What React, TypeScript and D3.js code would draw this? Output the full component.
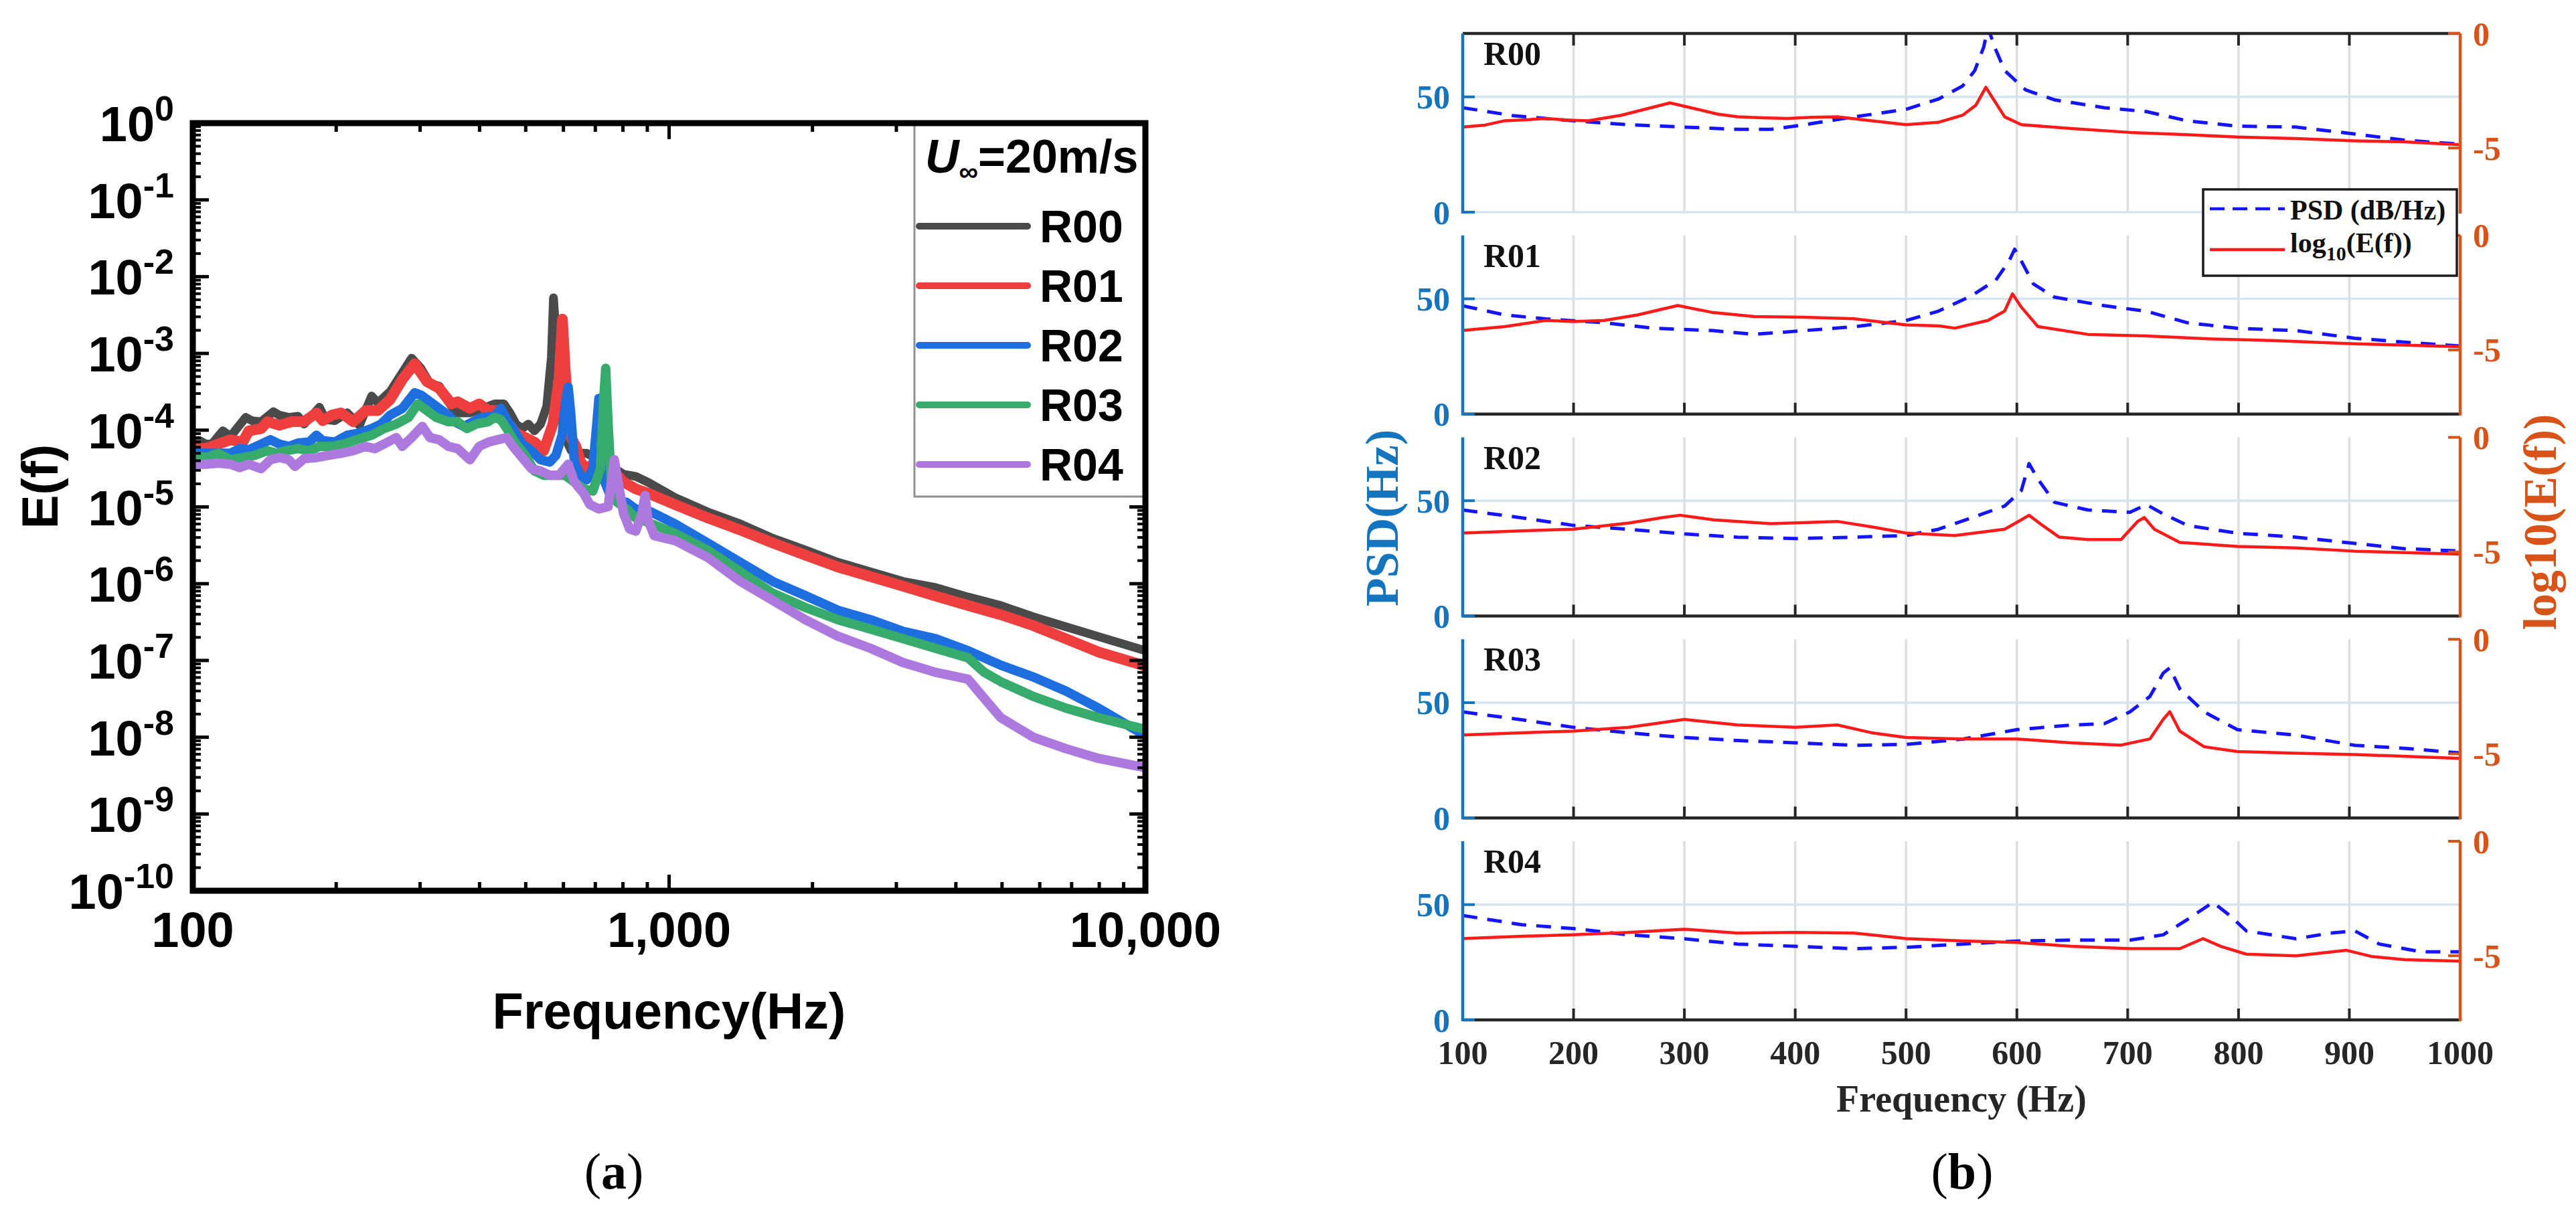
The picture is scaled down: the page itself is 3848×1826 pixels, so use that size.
import React from "react";
import * as d3 from "d3";

type Pt = [number, number];

// ── Panel (a): E(f) spectra, [frequency Hz, E] ─────────────────────────────
const SERIES_A = ["R00", "R01", "R02", "R03", "R04"];
const COLORS_A = ["#4a4a4a", "#ef3e3e", "#1d6fe0", "#36ab6b", "#ae79de"];
const WIDTHS_A = [13, 16, 14, 14, 14];

const r00: Pt[] = [
  [100, 7.3e-5], [103.4, 7.3e-5], [106.5, 6.6e-5], [109.7, 6.6e-5], [115.6, 9.8e-5], [120, 8.3e-5],
  [129.2, 1.47e-4], [133.1, 1.33e-4], [139.2, 1.29e-4], [147.6, 1.74e-4], [151.9, 1.57e-4], [159.1, 1.47e-4],
  [166.3, 1.52e-4], [171.3, 1.2e-4], [184.5, 1.99e-4], [190, 1.37e-4], [198.7, 1.33e-4], [210.9, 1.68e-4],
  [223.8, 1.16e-4], [237.4, 2.78e-4], [244.6, 2.27e-4], [259.6, 3.18e-4], [275.4, 5.61e-4], [288, 8.68e-4],
  [301.1, 6.42e-4], [314.8, 4.01e-4], [329.1, 3.75e-4], [339, 2.69e-4], [349.3, 2.05e-4], [359.8, 1.68e-4],
  [381.8, 1.68e-4], [405.3, 1.92e-4], [430.3, 2.2e-4], [449.7, 2.2e-4], [463.2, 1.68e-4], [477, 1.2e-4],
  [491.6, 1.05e-4], [506.3, 1.2e-4], [521.5, 9.8e-5], [537.3, 1.2e-4], [553.5, 2.05e-4], [566, 9.0e-4],
  [571.8, 5.3e-3], [578.7, 1.75e-3], [587.2, 2.35e-4], [604.9, 8.0e-5], [623.2, 5.4e-5], [651.6, 5.0e-5],
  [671.3, 5.0e-5], [712.3, 4.1e-5], [755.8, 3.4e-5], [802.1, 2.66e-5], [851.1, 2.5e-5], [903, 2.1e-5],
  [1030, 1.32e-5], [1205, 8.6e-6], [1411, 6.0e-6], [1651, 3.9e-6], [1932, 2.75e-6], [2262, 1.9e-6],
  [2647, 1.43e-6], [3098, 1.07e-6], [3626, 8.9e-7], [4244, 6.7e-7], [4967, 5.2e-7], [5814, 3.7e-7],
  [6804, 2.75e-7], [7963, 2.05e-7], [10000, 1.34e-7],
];
const r01: Pt[] = [
  [100, 5.95e-5], [106.5, 5.75e-5], [113.1, 6.6e-5], [120, 7.5e-5], [127.3, 7.0e-5], [131.1, 9.8e-5],
  [139.2, 1.05e-4], [143.4, 1.29e-4], [151.9, 1.16e-4], [161.4, 1.29e-4], [171.3, 1.29e-4], [181.8, 1.68e-4],
  [187.3, 1.33e-4], [195.7, 1.57e-4], [204.7, 1.68e-4], [217.3, 1.29e-4], [230.6, 1.8e-4], [244.6, 1.8e-4],
  [259.6, 2.51e-4], [275.4, 4.59e-4], [292.3, 7.34e-4], [301.1, 5.61e-4], [310.2, 4.29e-4], [329.1, 3.51e-4],
  [349.3, 2.2e-4], [359.8, 2.35e-4], [381.8, 1.92e-4], [399.4, 2.2e-4], [417.4, 1.8e-4], [436.4, 1.8e-4],
  [456.3, 1.29e-4], [477, 9.2e-5], [499, 8.0e-5], [521.5, 7.0e-5], [545.4, 5.4e-5], [570.2, 1.2e-4],
  [587.2, 4.59e-4], [597, 2.8e-3], [604.9, 6.4e-4], [618.6, 8.6e-5], [637.4, 6.15e-5], [651.6, 3.85e-5],
  [671.3, 3.15e-5], [691.6, 3.6e-5], [712.3, 4.4e-5], [733.8, 4.12e-5], [755.8, 3.15e-5], [802.1, 2.11e-5],
  [851.1, 1.72e-5], [903, 1.51e-5], [1030, 1.07e-5], [1205, 7.2e-6], [1411, 5.0e-6], [1651, 3.4e-6],
  [1932, 2.36e-6], [2262, 1.65e-6], [2647, 1.24e-6], [3098, 9.3e-7], [3626, 6.9e-7], [4244, 5.2e-7],
  [4967, 3.95e-7], [5814, 2.85e-7], [6804, 1.92e-7], [7963, 1.29e-7], [10000, 8.5e-8],
];
const r02: Pt[] = [
  [100, 5.2e-5], [106.5, 5.0e-5], [113.1, 5.0e-5], [120, 5.0e-5], [125.4, 5.75e-5], [131.1, 5.56e-5],
  [139.2, 6.6e-5], [145.5, 7.5e-5], [151.9, 6.6e-5], [159.1, 6.15e-5], [166.3, 6.8e-5], [175.5, 7.0e-5],
  [181.8, 8.6e-5], [187.3, 7.3e-5], [198.7, 7.0e-5], [210.9, 8.6e-5], [223.8, 9.2e-5], [237.4, 1.05e-4],
  [248.3, 1.2e-4], [259.6, 1.57e-4], [275.4, 1.92e-4], [292.3, 3.07e-4], [301.1, 2.87e-4], [314.8, 2.35e-4],
  [329.1, 1.92e-4], [344.1, 1.57e-4], [354.6, 1.29e-4], [370.7, 1.12e-4], [387.6, 1.29e-4], [405.3, 1.47e-4],
  [430.3, 1.52e-4], [443.2, 1.92e-4], [456.3, 1.37e-4], [470, 1.05e-4], [491.6, 6.6e-5], [514, 5.4e-5],
  [537.3, 4.12e-5], [561.8, 3.85e-5], [578.7, 4.71e-5], [596, 8.6e-5], [606.7, 2.35e-4], [614, 3.63e-4],
  [621.4, 1.68e-4], [632.5, 3.85e-5], [651.6, 2.58e-5], [671.3, 2.25e-5], [691.6, 3.15e-5], [705, 1.2e-4],
  [712.3, 2.6e-4], [720.8, 8.6e-5], [729.5, 2.25e-5], [755.8, 1.32e-5], [778.6, 1.23e-5], [814.2, 1.15e-5],
  [851.1, 9.4e-6], [903, 9.0e-6], [1030, 6.0e-6], [1205, 3.4e-6], [1411, 1.9e-6], [1651, 1.07e-6],
  [1932, 7.0e-7], [2262, 4.5e-7], [2647, 3.4e-7], [3098, 2.4e-7], [3626, 1.92e-7], [4244, 1.34e-7],
  [4967, 8.7e-8], [5814, 6.1e-8], [6804, 4.0e-8], [7963, 2.4e-8], [10000, 1.05e-8],
];
const r03: Pt[] = [
  [100, 4.71e-5], [106.5, 4.4e-5], [113.1, 5.0e-5], [120, 4.12e-5], [127.3, 4.4e-5], [135.1, 4.71e-5],
  [143.4, 5.4e-5], [149.9, 5.0e-5], [156.7, 5.4e-5], [166.3, 5.75e-5], [175.5, 5.4e-5], [184.5, 6.15e-5],
  [195.7, 6.15e-5], [207.7, 6.6e-5], [220.5, 7.5e-5], [237.4, 8.6e-5], [252, 1.05e-4], [267.4, 1.2e-4],
  [283.8, 1.47e-4], [296.7, 2.2e-4], [310.2, 1.8e-4], [324.3, 1.47e-4], [344.1, 1.29e-4], [359.8, 1.29e-4],
  [376.2, 1.05e-4], [393.4, 1.2e-4], [417.4, 1.29e-4], [430.3, 1.47e-4], [443.2, 1.37e-4], [456.3, 1.05e-4],
  [477, 6.6e-5], [499, 4.71e-5], [521.5, 2.94e-5], [545.4, 2.58e-5], [578.7, 2.58e-5], [604.9, 2.58e-5],
  [632.5, 2.11e-5], [661.3, 1.72e-5], [691.6, 1.61e-5], [717.6, 3.15e-5], [728.4, 2.35e-4], [736, 6.4e-4],
  [744.7, 1.2e-4], [755.8, 2.25e-5], [778.6, 1.15e-5], [814.2, 9.4e-6], [851.1, 7.2e-6], [903, 6.3e-6],
  [1030, 4.5e-6], [1205, 2.73e-6], [1411, 1.43e-6], [1651, 7.5e-7], [1932, 4.9e-7], [2262, 3.4e-7],
  [2647, 2.56e-7], [3098, 1.92e-7], [3626, 1.44e-7], [4244, 1.08e-7], [4590, 7.0e-8], [4967, 5.3e-8],
  [5814, 3.4e-8], [6804, 2.4e-8], [7963, 1.8e-8], [10000, 1.26e-8],
];
const r04: Pt[] = [
  [100, 3.6e-5], [106.5, 3.6e-5], [113.1, 3.72e-5], [120, 3.6e-5], [125.4, 3.26e-5], [131.1, 3.6e-5],
  [139.2, 3.15e-5], [145.5, 4.12e-5], [151.9, 4.4e-5], [159.1, 4.12e-5], [163.9, 3.37e-5], [171.3, 4.26e-5],
  [181.8, 4.4e-5], [192.9, 4.71e-5], [204.7, 5.0e-5], [217.3, 5.4e-5], [230.6, 6.15e-5], [241, 5.75e-5],
  [252, 6.6e-5], [267.4, 8.0e-5], [275.4, 6.15e-5], [288, 8.0e-5], [303.3, 1.12e-4], [314.8, 8.0e-5],
  [329.1, 7.5e-5], [344.1, 6.15e-5], [359.8, 5.75e-5], [381.8, 4.12e-5], [399.4, 6.15e-5], [417.4, 7.0e-5],
  [436.4, 7.5e-5], [456.3, 8.0e-5], [470, 6.15e-5], [491.6, 4.4e-5], [514, 3.15e-5], [537.3, 2.94e-5],
  [561.8, 2.58e-5], [587.2, 2.58e-5], [614, 3.6e-5], [632.5, 2.11e-5], [661.3, 1.51e-5], [681.3, 1.08e-5],
  [712.3, 9.4e-6], [744.7, 1.01e-5], [767.2, 4.12e-5], [778.6, 2.41e-5], [802.1, 8.25e-6], [826.4, 5.16e-6],
  [851.1, 4.83e-6], [877, 8.25e-6], [890, 1.41e-5], [903, 6.75e-6], [930.7, 4.22e-6], [1030, 3.64e-6],
  [1205, 2.2e-6], [1411, 1.07e-6], [1651, 6.05e-7], [1932, 3.4e-7], [2262, 2.07e-7], [2647, 1.44e-7],
  [3098, 9.4e-8], [3626, 7.0e-8], [4244, 5.7e-8], [4591, 3.2e-8], [4967, 1.8e-8], [5814, 1.0e-8],
  [6804, 7.1e-9], [7963, 5.3e-9], [10000, 4.0e-9],
];
const DATA_A = [r00, r01, r02, r03, r04];

const Y_EXPONENTS = [0, -1, -2, -3, -4, -5, -6, -7, -8, -9, -10];
const X_MAJOR_A = [100, 1000, 10000];
const X_LABELS_A = ["100", "1,000", "10,000"];

// ── Panel (b): PSD (dB/Hz) and log10(E(f)) per rotor, [frequency Hz, value] ──
const SERIES_B = ["R00", "R01", "R02", "R03", "R04"];

const psdB: Pt[][] = [
  [[100, 45.3], [145, 41.9], [200, 39.6], [250, 37.9], [300, 36.9], [348, 35.9], [378, 35.9], [408, 37.9],
   [453, 41.3], [500, 44.6], [529, 49.0], [551, 54.7], [562, 61.4], [570, 71.5], [574, 80], [580, 71.5],
   [589, 61.4], [608, 53], [634, 48.7], [679, 45.3], [717, 43.6], [754, 39.6], [799, 37.3], [852, 36.9],
   [905, 33.9], [950, 31.2], [1000, 29.5]],
  [[100, 47], [138, 43], [175, 41.3], [228, 39.6], [273, 37.2], [326, 36.2], [363, 34.6], [408, 36.2],
   [453, 37.9], [500, 40.6], [529, 44.6], [559, 51.3], [581, 58.1], [593, 66.4], [598, 71.5], [604, 66.4],
   [615, 56.4], [634, 50.7], [679, 47], [717, 44.6], [754, 39.6], [799, 37.2], [852, 36.2], [905, 32.9],
   [950, 31.2], [1000, 29.5]],
  [[100, 46], [153, 42.6], [200, 39.3], [250, 37.6], [300, 35.6], [348, 34.2], [400, 33.6], [453, 34.2],
   [500, 34.9], [529, 37.6], [559, 42.6], [589, 47.7], [604, 54.4], [611, 66.1], [619, 59.4], [634, 49.3],
   [664, 46], [702, 45], [717, 48.3], [732, 44.3], [754, 39.3], [799, 35.9], [852, 34.2], [905, 31.5],
   [950, 29.2], [1000, 28.2]],
  [[100, 46], [153, 42.6], [200, 39.3], [250, 36.9], [300, 34.9], [348, 33.6], [400, 32.6], [453, 31.5],
   [500, 31.9], [551, 34.2], [600, 38.3], [649, 40.3], [679, 40.9], [702, 46], [720, 52.7], [732, 62.8],
   [738, 65.1], [747, 56], [769, 46], [799, 38.3], [852, 35.9], [905, 31.5], [950, 30.2], [1000, 28.2]],
  [[100, 45.3], [153, 41.3], [200, 39.6], [250, 36.9], [300, 35.2], [348, 32.9], [400, 31.9], [453, 30.9],
   [500, 31.5], [551, 32.9], [600, 34.2], [649, 34.6], [702, 34.6], [732, 36.9], [754, 43.6], [777, 51.0],
   [792, 45.3], [807, 38.6], [852, 35.2], [882, 37.6], [905, 38.6], [927, 32.9], [965, 29.5], [1000, 29.5]],
];

const logEB: Pt[][] = [
  [[100, -4.08], [120, -4.0], [138, -3.81], [160, -3.76], [175, -3.71], [195, -3.78], [213, -3.81],
   [243, -3.57], [265, -3.30], [287, -3.03], [311, -3.30], [330, -3.52], [348, -3.64], [370, -3.68],
   [393, -3.71], [415, -3.66], [438, -3.64], [469, -3.81], [500, -3.98], [529, -3.88], [551, -3.57],
   [563, -3.13], [572, -2.35], [580, -2.96], [589, -3.64], [604, -3.98], [649, -4.15], [702, -4.32],
   [754, -4.42], [799, -4.52], [852, -4.59], [905, -4.69], [950, -4.73], [1000, -4.86]],
  [[100, -4.15], [138, -3.98], [175, -3.71], [200, -3.76], [228, -3.71], [258, -3.47], [294, -3.06],
   [326, -3.37], [363, -3.54], [408, -3.57], [453, -3.64], [500, -3.91], [530, -3.95], [544, -4.05],
   [574, -3.71], [589, -3.30], [596, -2.55], [604, -3.13], [619, -3.98], [664, -4.32], [717, -4.39],
   [777, -4.52], [829, -4.59], [905, -4.73], [1000, -4.86]],
  [[100, -4.18], [153, -4.08], [200, -4.01], [250, -3.74], [281, -3.50], [296, -3.40], [326, -3.60],
   [378, -3.77], [438, -3.67], [469, -3.91], [500, -4.18], [544, -4.29], [589, -4.01], [604, -3.60],
   [611, -3.40], [623, -3.84], [638, -4.35], [664, -4.46], [694, -4.46], [709, -3.67], [715, -3.50],
   [724, -4.01], [747, -4.59], [799, -4.76], [852, -4.83], [905, -4.97], [1000, -5.10]],
  [[100, -4.18], [153, -4.08], [200, -4.01], [250, -3.84], [300, -3.50], [348, -3.74], [400, -3.84],
   [438, -3.74], [469, -4.08], [500, -4.29], [551, -4.35], [600, -4.35], [649, -4.52], [694, -4.62],
   [720, -4.35], [732, -3.50], [738, -3.16], [747, -4.01], [769, -4.69], [799, -4.90], [852, -4.97],
   [905, -5.03], [1000, -5.20]],
  [[100, -4.25], [153, -4.15], [200, -4.08], [250, -3.98], [300, -3.84], [348, -4.01], [400, -3.98],
   [453, -4.01], [500, -4.25], [551, -4.35], [600, -4.42], [649, -4.59], [702, -4.69], [747, -4.69],
   [768, -4.25], [784, -4.59], [807, -4.93], [852, -5.0], [897, -4.76], [920, -5.03], [950, -5.17],
   [1000, -5.24]],
];

const X_TICKS_B = [100, 200, 300, 400, 500, 600, 700, 800, 900, 1000];
const PSD_TICKS = [0, 50];
const LOG_TICKS = [0, -5];

const SANS = "'Liberation Sans', Arial, sans-serif";
const SERIF = "'Liberation Serif', 'Times New Roman', serif";
const PSD_BLUE = "#1474bd";
const LOG_ORANGE = "#d95319";

function PanelA() {
  const L = 288, R = 1711, T = 184, B = 1331;
  const x = d3.scaleLog().domain([100, 10000]).range([L, R]);
  const y = d3.scaleLog().domain([1e-10, 1]).range([B, T]);
  const line = d3.line<Pt>().x((d) => x(d[0])).y((d) => y(d[1]));

  const yMinor: number[] = [];
  Y_EXPONENTS.slice(1).forEach((e) => d3.range(2, 10).forEach((m) => yMinor.push(m * Math.pow(10, e))));
  const xMinor: number[] = [];
  [100, 1000].forEach((b) => d3.range(2, 10).forEach((m) => xMinor.push(m * b)));

  const legendTop = 338, legendStep = 89;

  return (
    <g>
      <defs>
        <clipPath id="clipA">
          <rect x={L} y={T} width={R - L} height={B - T} />
        </clipPath>
      </defs>
      <g clipPath="url(#clipA)">
        {DATA_A.map((d, i) => (
          <path key={i} d={line(d) ?? ""} fill="none" stroke={COLORS_A[i]}
            strokeWidth={WIDTHS_A[i]} strokeLinejoin="round" strokeLinecap="round" />
        ))}
      </g>

      {/* ticks */}
      {Y_EXPONENTS.map((e) => {
        const yy = y(Math.pow(10, e));
        return (
          <g key={"ym" + e}>
            <line x1={L} x2={L + 24} y1={yy} y2={yy} stroke="#000" strokeWidth={5} />
            <line x1={R} x2={R - 24} y1={yy} y2={yy} stroke="#000" strokeWidth={5} />
          </g>
        );
      })}
      {yMinor.map((v, i) => (
        <g key={"yn" + i}>
          <line x1={L} x2={L + 12} y1={y(v)} y2={y(v)} stroke="#000" strokeWidth={4} />
          <line x1={R} x2={R - 12} y1={y(v)} y2={y(v)} stroke="#000" strokeWidth={4} />
        </g>
      ))}
      {X_MAJOR_A.map((v) => (
        <g key={"xm" + v}>
          <line x1={x(v)} x2={x(v)} y1={B} y2={B - 24} stroke="#000" strokeWidth={5} />
          <line x1={x(v)} x2={x(v)} y1={T} y2={T + 24} stroke="#000" strokeWidth={5} />
        </g>
      ))}
      {xMinor.map((v) => (
        <g key={"xn" + v}>
          <line x1={x(v)} x2={x(v)} y1={B} y2={B - 13} stroke="#000" strokeWidth={5} />
          <line x1={x(v)} x2={x(v)} y1={T} y2={T + 13} stroke="#000" strokeWidth={5} />
        </g>
      ))}

      {/* legend */}
      <rect x={1366} y={T} width={R - 1366} height={742 - T} fill="#fff" stroke="#8f8f8f" strokeWidth={3} />
      <text x={1382} y={258} fontFamily={SANS} fontWeight="bold" fontSize={70}>
        <tspan fontStyle="italic">U</tspan>
        <tspan fontSize={40} dy={12}>∞</tspan>
        <tspan dy={-12}>=20m/s</tspan>
      </text>
      {SERIES_A.map((s, i) => {
        const ly = legendTop + i * legendStep;
        return (
          <g key={s}>
            <line x1={1373} x2={1535} y1={ly} y2={ly} stroke={COLORS_A[i]} strokeWidth={10} strokeLinecap="round" />
            <text x={1553} y={ly + 24} fontFamily={SANS} fontWeight="bold" fontSize={68}>{s}</text>
          </g>
        );
      })}

      {/* frame */}
      <rect x={L} y={T} width={R - L} height={B - T} fill="none" stroke="#000" strokeWidth={9} />

      {/* tick labels */}
      {Y_EXPONENTS.map((e) => (
        <text key={"yl" + e} x={260} y={y(Math.pow(10, e)) + 27} textAnchor="end"
          fontFamily={SANS} fontWeight="bold" fontSize={74}>
          10<tspan fontSize={52} dy={-31}>{e}</tspan>
        </text>
      ))}
      {X_MAJOR_A.map((v, i) => (
        <text key={"xl" + v} x={x(v)} y={1415} textAnchor="middle"
          fontFamily={SANS} fontWeight="bold" fontSize={74}>{X_LABELS_A[i]}</text>
      ))}

      <text x={(L + R) / 2} y={1537} textAnchor="middle" fontFamily={SANS} fontWeight="bold" fontSize={76}>
        Frequency(Hz)
      </text>
      <text transform="translate(86,727) rotate(-90)" textAnchor="middle" fontFamily={SANS}
        fontWeight="bold" fontSize={76}>E(f)</text>

      <text x={917} y={1776} textAnchor="middle" fontFamily={SERIF} fontSize={76}>
        (<tspan fontWeight="bold">a</tspan>)
      </text>
    </g>
  );
}

function PanelB() {
  const L = 2185, R = 3675, H = 267, step = 301.75, top0 = 50;
  const x = d3.scaleLinear().domain([100, 1000]).range([L, R]);
  const grid = X_TICKS_B.slice(1, -1);

  return (
    <g>
      {SERIES_B.map((name, k) => {
        const T = top0 + k * step;
        const B = T + H;
        const yL = d3.scaleLinear().domain([0, 77.5]).range([B, T]);
        const yR = d3.scaleLinear().domain([-7.8, 0]).range([B, T]);
        const lineL = d3.line<Pt>().x((d) => x(d[0])).y((d) => yL(d[1]));
        const lineR = d3.line<Pt>().x((d) => x(d[0])).y((d) => yR(d[1]));
        const axisCol = "#262626";
        return (
          <g key={name}>
            <defs>
              <clipPath id={"clipB" + k}>
                <rect x={L} y={T} width={R - L} height={H} />
              </clipPath>
            </defs>
            {/* grid */}
            {grid.map((v) => (
              <line key={v} x1={x(v)} x2={x(v)} y1={T} y2={B} stroke="#dedede" strokeWidth={3.5} />
            ))}
            <line x1={L} x2={R} y1={yL(50)} y2={yL(50)} stroke="#d3e5f2" strokeWidth={3.5} />
            {k === 0 && <line x1={L} x2={R} y1={B} y2={B} stroke="#d3e5f2" strokeWidth={3.5} />}

            {/* curves */}
            <g clipPath={`url(#clipB${k})`}>
              <path d={lineL(psdB[k]) ?? ""} fill="none" stroke="#1414ff" strokeWidth={5}
                strokeDasharray="22 15" strokeLinejoin="round" />
              <path d={lineR(logEB[k]) ?? ""} fill="none" stroke="#ff1a1a" strokeWidth={4.5}
                strokeLinejoin="round" />
            </g>

            {/* x axis: top for first panel, bottom for others */}
            {k === 0 ? (
              <g>
                <line x1={L} x2={R} y1={T} y2={T} stroke={axisCol} strokeWidth={4.5} />
                {grid.map((v) => (
                  <line key={v} x1={x(v)} x2={x(v)} y1={T} y2={T + 18} stroke={axisCol} strokeWidth={4} />
                ))}
              </g>
            ) : (
              <g>
                <line x1={L} x2={R} y1={B} y2={B} stroke={axisCol} strokeWidth={4.5} />
                {grid.map((v) => (
                  <line key={v} x1={x(v)} x2={x(v)} y1={B} y2={B - 17} stroke={axisCol} strokeWidth={4} />
                ))}
              </g>
            )}

            {/* left axis */}
            <line x1={L} x2={L} y1={T} y2={B + 2} stroke={PSD_BLUE} strokeWidth={4.5} />
            {PSD_TICKS.map((v) => (
              <g key={v}>
                <line x1={L} x2={L + 18} y1={yL(v)} y2={yL(v)} stroke={PSD_BLUE} strokeWidth={4} />
                <text x={2166} y={yL(v)} dy="0.35em" textAnchor="end" fontFamily={SERIF}
                  fontWeight="bold" fontSize={50} fill={PSD_BLUE}>{v}</text>
              </g>
            ))}

            {/* right axis */}
            <line x1={R} x2={R} y1={T} y2={B + 2} stroke={LOG_ORANGE} strokeWidth={4.5} />
            {LOG_TICKS.map((v) => (
              <g key={v}>
                <line x1={R} x2={R - 18} y1={yR(v)} y2={yR(v)} stroke={LOG_ORANGE} strokeWidth={4} />
                <text x={3694} y={yR(v)} dy="0.35em" textAnchor="start" fontFamily={SERIF}
                  fontWeight="bold" fontSize={50} fill={LOG_ORANGE}>{v}</text>
              </g>
            ))}

            <text x={2216} y={T + 47} fontFamily={SERIF} fontWeight="bold" fontSize={50} fill="#111">{name}</text>
          </g>
        );
      })}

      {/* legend */}
      <g>
        <rect x={3291} y={283} width={379} height={129} fill="#fff" stroke="#1a1a1a" strokeWidth={3.5} />
        <line x1={3301} x2={3413} y1={312} y2={312} stroke="#1414ff" strokeWidth={4.5} strokeDasharray="22 12" />
        <text x={3421} y={328} fontFamily={SERIF} fontWeight="bold" fontSize={42} fill="#111">PSD (dB/Hz)</text>
        <line x1={3301} x2={3413} y1={373} y2={373} stroke="#ff1a1a" strokeWidth={4.5} />
        <text x={3421} y={377} fontFamily={SERIF} fontWeight="bold" fontSize={42} fill="#111">
          log<tspan fontSize={30} dy={12}>10</tspan><tspan dy={-12}>(E(f))</tspan>
        </text>
      </g>

      {/* x tick labels */}
      {X_TICKS_B.map((v) => (
        <text key={v} x={x(v)} y={1590} textAnchor="middle" fontFamily={SERIF} fontWeight="bold"
          fontSize={50} fill="#262626">{v}</text>
      ))}
      <text x={(L + R) / 2} y={1661} textAnchor="middle" fontFamily={SERIF} fontWeight="bold"
        fontSize={56} fill="#262626">Frequency (Hz)</text>

      <text transform="translate(2088,774) rotate(-90)" textAnchor="middle" fontFamily={SERIF}
        fontWeight="bold" fontSize={70} fill={PSD_BLUE}>PSD(Hz)</text>
      <text transform="translate(3818,780) rotate(-90)" textAnchor="middle" fontFamily={SERIF}
        fontWeight="bold" fontSize={70} fill={LOG_ORANGE}>log10(E(f))</text>

      <text x={2931} y={1776} textAnchor="middle" fontFamily={SERIF} fontSize={76}>
        (<tspan fontWeight="bold">b</tspan>)
      </text>
    </g>
  );
}

export default function App() {
  return (
    <svg width={3848} height={1826} viewBox="0 0 3848 1826"
      style={{ position: "absolute", left: 0, top: 0, background: "#fff" }}>
      <rect x={0} y={0} width={3848} height={1826} fill="#fff" />
      <PanelA />
      <PanelB />
    </svg>
  );
}
